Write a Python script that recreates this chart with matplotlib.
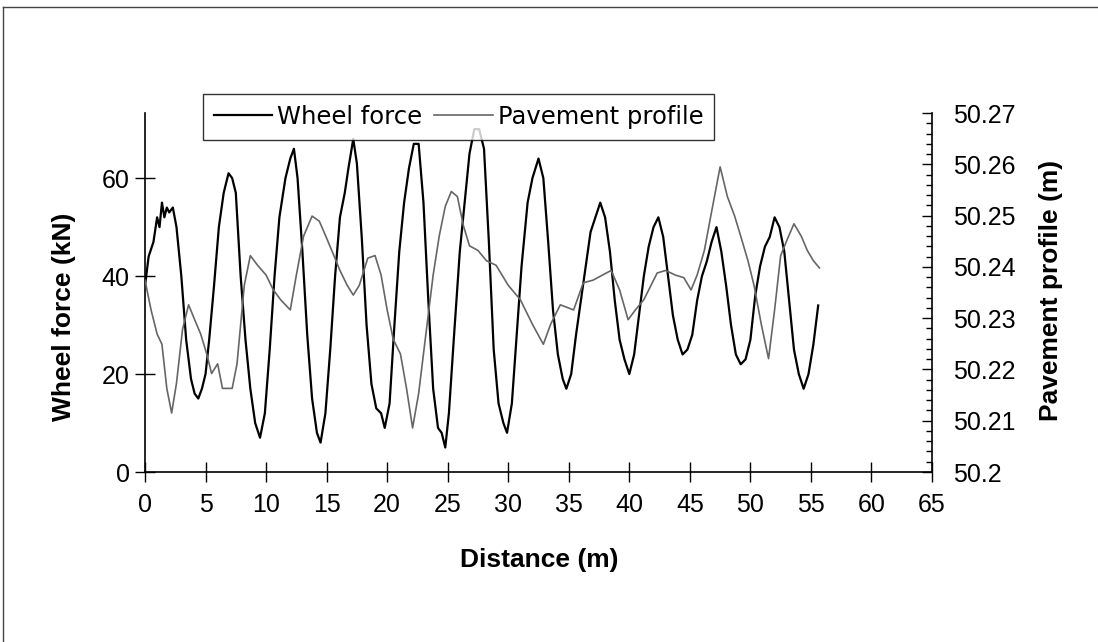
import matplotlib
matplotlib.use("Agg")
import matplotlib.pyplot as plt
from matplotlib.lines import Line2D
from matplotlib.ticker import MultipleLocator, FixedLocator

# wheel force (kN) vs distance (m)
dist_force = [0.0, 0.3, 0.7, 1.0, 1.2, 1.4, 1.6, 1.8, 2.0, 2.3, 2.6, 3.0, 3.4, 3.8, 4.1, 4.4, 4.7,
              5.0, 5.3, 5.7, 6.1, 6.5, 6.9, 7.2, 7.5, 7.9, 8.3, 8.7, 9.1, 9.5, 9.9, 10.3, 10.7,
              11.1, 11.6, 12.0, 12.3, 12.6, 13.0, 13.4, 13.8, 14.2, 14.5, 14.9, 15.3, 15.7, 16.1,
              16.5, 16.8, 17.2, 17.5, 17.9, 18.3, 18.7, 19.1, 19.5, 19.8, 20.2, 20.6, 21.0, 21.4,
              21.8, 22.2, 22.6, 23.0, 23.4, 23.8, 24.2, 24.5, 24.8, 25.1, 25.5, 26.0, 26.4, 26.8,
              27.2, 27.6, 28.0, 28.4, 28.8, 29.2, 29.6, 29.9, 30.3, 30.7, 31.1, 31.6, 32.0, 32.5,
              32.9, 33.3, 33.7, 34.1, 34.5, 34.8, 35.2, 35.6, 36.0, 36.4, 36.8, 37.2, 37.6, 38.0,
              38.4, 38.8, 39.2, 39.6, 40.0, 40.4, 40.8, 41.2, 41.6, 42.0, 42.4, 42.8, 43.2, 43.6,
              44.0, 44.4, 44.8, 45.2, 45.6, 46.0, 46.4, 46.8, 47.2, 47.6, 48.0, 48.4, 48.8, 49.2,
              49.6, 50.0, 50.4, 50.8, 51.2, 51.6, 52.0, 52.4, 52.8, 53.2, 53.6, 54.0, 54.4, 54.8,
              55.2, 55.6]
wheel_force = [38, 44, 47, 52, 50, 55, 52, 54, 53, 54, 50, 40, 27, 19, 16, 15, 17,
               20, 27, 38, 50, 57, 61, 60, 57, 40, 27, 17, 10, 7, 12, 25, 40,
               52, 60, 64, 66, 60, 45, 28, 15, 8, 6, 12, 25, 40, 52,
               57, 62, 68, 63, 48, 30, 18, 13, 12, 9, 14, 30, 45, 55,
               62, 67, 67, 55, 35, 17, 9, 8, 5, 12, 27, 45, 55, 65,
               70, 70, 66, 47, 25, 14, 10, 8, 14, 28, 42, 55, 60, 64,
               60, 47, 33, 24, 19, 17, 20, 28, 35, 42, 49, 52, 55, 52,
               45, 35, 27, 23, 20, 24, 32, 40, 46, 50, 52, 48, 40, 32,
               27, 24, 25, 28, 35, 40, 43, 47, 50, 45, 38, 30, 24, 22,
               23, 27, 36, 42, 46, 48, 52, 50, 45, 35, 25, 20, 17, 20,
               26, 34]

# pavement profile (m) vs distance (m)
dist_profile = [0.0, 0.5, 1.0, 1.4, 1.8, 2.2, 2.6, 3.1, 3.6, 4.1, 4.6, 5.1, 5.5, 6.0, 6.4, 7.2,
                7.6, 8.2, 8.7, 9.3, 10.0, 10.6, 11.2, 12.0, 12.5, 13.1, 13.8, 14.4, 15.0, 15.6,
                16.1, 16.7, 17.2, 17.7, 18.4, 19.0, 19.5, 20.0, 20.5, 21.1, 21.6, 22.1, 22.6,
                23.2, 23.8, 24.3, 24.8, 25.3, 25.8, 26.3, 26.8, 27.5, 28.2, 29.0, 30.0, 31.0,
                32.0, 32.9, 33.5, 34.3, 35.4, 36.2, 37.0, 38.5, 39.2, 39.9, 40.5, 41.2, 42.3,
                43.0, 43.8, 44.5, 45.1, 45.6, 46.2, 46.8, 47.5, 48.1, 48.7, 49.2, 49.8, 50.3,
                50.9, 51.5, 52.0, 52.5, 53.0, 53.6, 54.2, 54.7, 55.2, 55.7]
pavement_profile = [50.2374, 50.2316, 50.2269, 50.2249, 50.2163, 50.2115, 50.2173, 50.2278,
                    50.2326, 50.2297, 50.2269, 50.2230, 50.2192, 50.2211, 50.2163, 50.2163,
                    50.2211, 50.2364, 50.2422, 50.2403, 50.2384, 50.2355, 50.2336, 50.2316,
                    50.2384, 50.2460, 50.2499, 50.2489, 50.2456, 50.2422, 50.2393, 50.2364,
                    50.2345, 50.2364, 50.2417, 50.2422, 50.2384, 50.2316, 50.2259, 50.2230,
                    50.2163, 50.2086, 50.2153, 50.2269, 50.2384, 50.2460, 50.2518, 50.2547,
                    50.2537, 50.2480, 50.2441, 50.2432, 50.2412, 50.2403, 50.2364, 50.2336,
                    50.2288, 50.2249, 50.2288, 50.2326, 50.2316, 50.2369, 50.2374, 50.2393,
                    50.2355, 50.2297, 50.2316, 50.2336, 50.2388, 50.2393, 50.2384, 50.2379,
                    50.2355, 50.2384, 50.2432, 50.2508, 50.2595, 50.2537, 50.2499, 50.2460,
                    50.2412, 50.2364, 50.2288, 50.2221, 50.2316, 50.2422, 50.2451, 50.2484,
                    50.2460, 50.2432, 50.2412, 50.2398]

x_ticks = [0, 5, 10, 15, 20, 25, 30, 35, 40, 45, 50, 55, 60, 65]
force_ticks = [0, 20, 40, 60]
profile_ticks = [50.2, 50.21, 50.22, 50.23, 50.24, 50.25, 50.26, 50.27]
profile_labels = ["50.2", "50.21", "50.22", "50.23", "50.24", "50.25", "50.26", "50.27"]

plt.rcParams['font.family'] = ['Liberation Sans', 'DejaVu Sans']

W, H = 1098, 642
fig = plt.figure(figsize=(W / 100, H / 100), dpi=100)
left, right, top, bottom = 145, 932, 113, 472
ax = fig.add_axes([left / W, 1 - bottom / H, (right - left) / W, (bottom - top) / H])
ax2 = ax.twinx()

l1, = ax.plot(dist_force, wheel_force, color='black', lw=1.6, label='Wheel force')
l2, = ax2.plot(dist_profile, pavement_profile, color='#666666', lw=1.2, label='Pavement profile')

ax.set_xlim(0, 65)
ax.set_ylim(0, 73.3)
ax2.set_ylim(50.2, 50.27)

ax.xaxis.set_major_locator(FixedLocator(x_ticks))
ax.yaxis.set_major_locator(FixedLocator(force_ticks))
ax2.yaxis.set_major_locator(FixedLocator(profile_ticks))
ax2.set_yticklabels(profile_labels)
ax2.yaxis.set_minor_locator(MultipleLocator(0.002))

for a in (ax, ax2):
    a.spines['top'].set_visible(False)
    for s in a.spines.values():
        s.set_linewidth(1.2)
ax.spines['right'].set_visible(False)
ax2.spines['left'].set_visible(False)
ax2.spines['bottom'].set_visible(False)

ax.tick_params(axis='both', direction='inout', length=14, width=1, labelsize=18, pad=4)
ax.tick_params(axis='x', pad=8)
ax2.tick_params(axis='y', which='major', direction='in', length=7, width=1, labelsize=18, pad=15)
ax2.tick_params(axis='y', which='minor', direction='in', length=4, width=1)

fig.text(64 / W, 1 - 317 / H, 'Wheel force (kN)', rotation=90, fontsize=19,
         fontweight='bold', ha='center', va='center')
fig.text(1051 / W, 1 - 290 / H, 'Pavement profile (m)', rotation=90, fontsize=19,
         fontweight='bold', ha='center', va='center')
fig.text(539 / W, 1 - 560 / H, 'Distance (m)', fontsize=19, fontweight='bold',
         ha='center', va='center')

leg = fig.legend(handles=[l1, l2], loc='upper left', bbox_to_anchor=(203 / W, 1 - 94 / H),
                 ncol=2, prop={'family': 'DejaVu Sans', 'size': 17.5}, frameon=True,
                 fancybox=False, edgecolor='black', handlelength=2.4, handletextpad=0.2,
                 columnspacing=0.5, borderpad=0.45, borderaxespad=0)
leg.get_frame().set_linewidth(1.0)

# outer chart border (clipped at right and bottom in the scan)
fig.add_artist(Line2D([3 / W, 1], [1 - 7 / H, 1 - 7 / H], color='#444444', lw=1))
fig.add_artist(Line2D([3 / W, 3 / W], [0, 1 - 7 / H], color='#444444', lw=1))

fig.savefig('out.png', dpi=100)
